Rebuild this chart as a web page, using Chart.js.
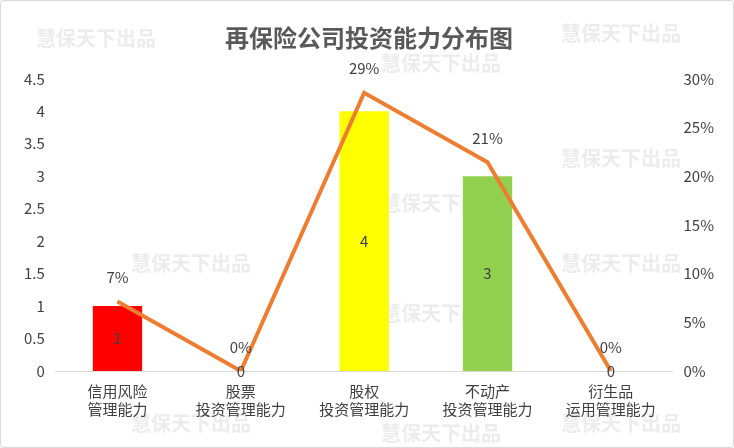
<!DOCTYPE html>
<html><head><meta charset="utf-8">
<script src="https://cdn.jsdelivr.net/npm/chart.js@4"></script>
<style>html,body{margin:0;padding:0;background:#fff}#w{width:732px;height:446px;border:1px solid #d9d9d9;border-radius:4px;position:relative}</style>
</head><body><div id="w"><canvas id="c" width="732" height="446"></canvas></div>
<script>
const categories=[["信用风险","管理能力"],["股票","投资管理能力"],["股权","投资管理能力"],["不动产","投资管理能力"],["衍生品","运用管理能力"]];
const counts=[1,0,4,3,0];
const shares=[0.0714,0,0.2857,0.2143,0];
const shareLabels=["7%","0%","29%","21%","0%"];
const barColors=["#ff0000","#a5a5a5","#ffff00","#92d050","#4472c4"];
const F="'Noto Sans CJK SC','Noto Sans',sans-serif";
const labelsPlugin={id:'lbl',afterDatasetsDraw(ch){const c=ch.ctx;c.save();c.font="15px "+F;c.fillStyle="#404040";c.textAlign="center";c.textBaseline="middle";
 const b=ch.getDatasetMeta(0),l=ch.getDatasetMeta(1);
 b.data.forEach((e,i)=>{c.fillText(String(counts[i]),e.x,(e.y+e.base)/2);});
 l.data.forEach((e,i)=>{c.fillText(shareLabels[i],e.x,e.y-24);});
 c.restore();},
 beforeDraw(ch){const c=ch.ctx;c.save();c.font="bold 20px "+F;c.fillStyle="rgba(200,200,200,0.35)";c.textAlign="center";
 const pos=[[95,45],[620,40],[440,70],[620,165],[440,210],[190,270],[620,270],[440,320],[190,430],[620,430],[440,440]];
 pos.forEach(p=>c.fillText("慧保天下出品",p[0],p[1]));c.restore();}};
new Chart(document.getElementById('c'),{
 data:{labels:categories,datasets:[
  {type:'bar',data:counts,backgroundColor:barColors,yAxisID:'y',barPercentage:0.4,categoryPercentage:1,order:2},
  {type:'line',data:shares,borderColor:'#ed7d31',borderWidth:4,pointRadius:0,yAxisID:'y1',tension:0,order:1}
 ]},
 options:{responsive:false,animation:false,
  layout:{padding:{left:20,right:16,top:8,bottom:26}},
  plugins:{legend:{display:false},tooltip:{enabled:false},
   title:{display:true,text:"再保险公司投资能力分布图",font:{family:F,size:24,weight:'bold'},color:'#595959',padding:{top:14,bottom:27}}},
  scales:{
   x:{grid:{display:false},border:{color:'#d9d9d9'},ticks:{font:{family:F,size:15},color:'#404040'}},
   y:{min:0,max:4.5,ticks:{stepSize:0.5,font:{family:F,size:15},color:'#404040',callback:v=>String(v)},grid:{display:false},border:{display:false}},
   y1:{position:'right',min:0,max:0.3,ticks:{stepSize:0.05,font:{family:F,size:15},color:'#404040',callback:v=>Math.round(v*100)+'%'},grid:{display:false},border:{display:false}}
  }},
 plugins:[labelsPlugin]});
</script></body></html>
